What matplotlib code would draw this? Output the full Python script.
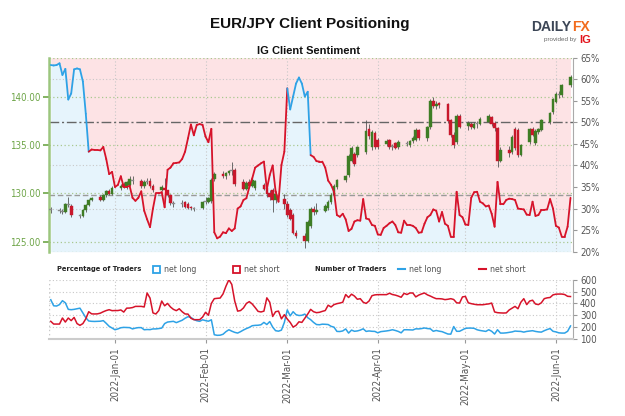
import matplotlib
matplotlib.use("Agg")
import matplotlib.pyplot as plt
import matplotlib.dates as mdates
import pandas as pd
from matplotlib import font_manager
from matplotlib.collections import LineCollection
from matplotlib.patches import Rectangle
from matplotlib.lines import Line2D

# IG client sentiment, one value per calendar day starting 2021-12-10
net_long_pct = [
    63.3, 63.2, 63.3, 63.7, 61.0, 62.4, 55.3, 56.7, 62.3, 62.5,
    62.3, 59.5, 52.0, 43.2, 43.7, 43.6, 43.6, 43.5, 44.3, 41.5,
    38.0, 38.5, 35.0, 35.5, 37.5, 35.0, 35.0, 35.3, 32.5, 31.8,
    32.5, 34.0, 29.5, 27.5, 25.7, 30.0, 33.5, 33.5, 33.8, 30.3,
    39.0, 39.5, 40.5, 40.6, 40.7, 41.5, 43.2, 46.3, 49.5, 47.0,
    49.4, 49.6, 49.4, 46.7, 45.4, 48.5, 24.5, 23.1, 23.5, 24.5,
    24.3, 25.4, 24.8, 25.4, 30.0, 30.5, 32.0, 32.4, 35.0, 37.0,
    39.5, 40.0, 40.5, 40.9, 34.5, 37.8, 40.0, 34.0, 31.6, 40.1,
    43.2, 57.9, 53.0, 56.0, 59.0, 60.4, 59.0, 56.0, 57.1, 42.4,
    42.0, 41.0, 40.9, 40.9, 39.5, 36.5, 35.5, 33.9, 28.5, 28.1,
    28.8, 27.5, 24.8, 25.3, 27.0, 27.3, 27.2, 32.2, 27.7, 27.5,
    26.2, 26.0, 24.0, 23.9, 25.5, 26.0, 26.6, 27.0, 26.2, 24.5,
    24.4, 27.2, 26.2, 26.2, 26.0, 25.5, 24.4, 24.5, 26.5, 28.0,
    28.5, 29.8, 29.5, 27.0, 29.2, 26.5, 26.0, 23.5, 23.5, 33.9,
    28.5, 28.0, 26.3, 26.2, 32.5, 33.8, 33.9, 31.6, 31.2, 30.5,
    30.7, 28.8, 25.8, 36.2, 31.0, 31.0, 32.0, 32.3, 32.2, 32.0,
    30.0, 29.9, 29.8, 28.6, 28.5, 31.6, 28.3, 28.5, 29.7, 29.7,
    29.8, 32.2, 30.0, 26.0, 25.6, 23.5, 23.5, 25.8, 32.5,
]
long_traders = [
    431, 380, 378, 390, 423, 405, 350, 347, 350, 355,
    360, 320, 280, 252, 249, 248, 249, 250, 255, 232,
    207, 193, 178, 185, 195, 198, 197, 196, 185, 192,
    196, 196, 178, 180, 179, 185, 185, 188, 192, 230,
    243, 246, 249, 238, 248, 258, 275, 288, 282, 265,
    254, 249, 262, 255, 250, 262, 136, 131, 132, 140,
    162, 178, 166, 156, 150, 162, 176, 188, 198, 212,
    215, 216, 220, 240, 222, 247, 200, 170, 166, 175,
    240, 345, 295, 330, 305, 298, 300, 310, 280, 263,
    240, 222, 220, 225, 224, 222, 207, 200, 164, 163,
    168, 185, 150, 175, 165, 168, 175, 186, 164, 168,
    165, 164, 152, 162, 165, 168, 172, 178, 172, 164,
    152, 178, 178, 177, 176, 186, 185, 188, 193, 188,
    186, 165, 172, 166, 162, 152, 142, 141, 205, 165,
    165, 178, 190, 192, 192, 190, 178, 172, 168, 164,
    178, 165, 142, 178, 150, 150, 152, 156, 160, 167,
    165, 164, 158, 164, 167, 170, 164, 160, 158, 170,
    180, 188, 165, 160, 152, 150, 150, 165, 210,
]
short_traders = [
    249, 226, 226, 226, 277, 243, 277, 255, 282, 230,
    215, 230, 270, 330, 312, 311, 312, 318, 330, 340,
    347, 339, 340, 340, 345, 327, 360, 361, 365, 375,
    375, 375, 370, 488, 445, 320, 311, 340, 420, 380,
    400, 370, 350, 339, 355, 330, 311, 310, 275, 263,
    263, 263, 285, 325, 300, 400, 440, 443, 445, 480,
    545, 600, 560, 420, 335, 340, 362, 400, 415, 395,
    365, 333, 328, 335, 447, 410, 290, 330, 335, 270,
    305, 268, 240, 200, 215, 245, 240, 275, 310, 350,
    330, 322, 325, 333, 340, 385, 370, 390, 398, 403,
    410, 475, 450, 478, 462, 435, 440, 410, 400, 420,
    465, 472, 474, 474, 474, 474, 486, 475, 470, 462,
    452, 485, 475, 488, 488, 455, 470, 480, 488, 472,
    462, 450, 440, 440, 438, 432, 435, 440, 433, 405,
    403, 455, 459, 405, 398, 393, 389, 389, 389, 393,
    396, 403, 328, 322, 320, 319, 320, 345, 360, 375,
    355, 410, 440, 390, 420, 427, 395, 390, 405, 440,
    447, 450, 472, 478, 479, 479, 475, 460, 458,
]

# EUR/JPY daily candles, business days 2021-12-10 .. 2022-06-06 (one row per month)
opens = [
    128.3, 128.3, 128.2, 128.1, 128.9, 128.7, 127.8, 127.7, 128.3, 128.8, 129.3, 129.6, 129.3, 129.8, 130.2, 129.9,
    130.6, 131.0, 130.7, 130.9, 131.4, 131.3, 130.8, 131.2, 131.3, 130.8, 130.3, 130.6, 130.3, 129.8, 129.0, 128.9, 129.1, 128.9, 128.6, 128.4, 128.5,
    129.1, 129.1, 129.2, 131.5, 132.0, 131.8, 132.1, 132.3, 132.4, 131.2, 130.5, 131.2, 130.8, 130.6, 130.9, 130.6, 130.0, 130.4, 129.3, 129.4,
    128.9, 128.3, 127.8, 125.9, 125.6, 125.1, 126.6, 128.4, 128.1, 128.2, 128.5, 129.1, 129.8, 130.7, 131.4, 131.9, 133.4, 134.1, 134.0, 134.3, 136.7, 134.8, 136.2,
    135.5, 135.1, 135.5, 134.8, 135.2, 134.8, 135.1, 135.0, 135.4, 135.5, 136.6, 135.7, 136.9, 139.6, 139.0, 139.3, 139.2, 137.6, 136.0, 135.3, 138.0,
    137.0, 137.2, 136.8, 137.2, 137.2, 137.4, 137.9, 137.3, 136.8, 133.4, 134.5, 134.3, 136.7, 136.6, 134.0, 135.3, 136.7, 135.2, 136.3, 136.6, 137.4, 138.4,
    139.5, 140.3, 140.2, 141.2,
]
highs = [
    128.6, 128.5, 128.4, 129.0, 129.6, 128.9, 127.9, 128.4, 128.9, 129.4, 129.6, 129.8, 129.9, 130.3, 130.5, 130.8,
    131.0, 131.2, 131.3, 131.8, 131.8, 131.5, 131.4, 131.6, 131.6, 131.0, 130.9, 131.6, 130.4, 129.9, 129.2, 129.3, 129.2, 129.1, 128.7, 128.6, 129.2,
    129.6, 129.6, 131.6, 132.2, 132.3, 132.2, 132.4, 133.2, 132.6, 131.5, 131.3, 131.5, 131.6, 131.4, 131.1, 130.8, 130.4, 130.6, 130.2, 129.9,
    129.2, 128.5, 128.0, 126.2, 125.9, 127.2, 128.6, 128.7, 129.0, 128.9, 129.3, 130.0, 131.0, 131.5, 131.9, 134.1, 134.9, 134.3, 134.9, 137.6, 137.2, 136.6, 136.5,
    135.7, 135.6, 135.6, 135.1, 135.3, 135.5, 135.4, 135.5, 135.9, 136.8, 136.7, 137.0, 139.8, 140.0, 139.6, 139.5, 139.3, 137.7, 136.3, 138.2, 138.2,
    137.5, 137.4, 137.4, 137.5, 137.9, 138.2, 138.0, 137.5, 136.9, 134.8, 134.9, 136.0, 136.9, 136.8, 135.1, 136.8, 136.9, 136.7, 136.8, 137.7, 138.4, 139.9,
    140.5, 140.6, 141.3, 142.2,
]
lows = [
    128.0, 128.0, 127.9, 128.0, 128.6, 127.6, 127.5, 127.6, 128.1, 128.7, 129.2, 129.2, 129.2, 129.6, 129.8, 129.8,
    130.4, 130.6, 130.5, 130.8, 131.0, 130.6, 130.6, 131.0, 130.6, 130.1, 130.2, 129.9, 129.6, 128.8, 128.6, 128.6, 128.5, 128.4, 128.3, 128.2, 128.4,
    128.9, 129.0, 129.0, 131.3, 131.6, 131.5, 131.9, 131.9, 130.8, 130.3, 130.4, 130.6, 130.7, 130.4, 130.3, 129.6, 129.3, 128.1, 129.0, 128.4,
    127.6, 127.2, 125.8, 125.4, 124.4, 125.0, 126.4, 127.8, 127.9, 128.1, 128.3, 128.9, 129.6, 130.5, 131.2, 131.7, 133.2, 132.8, 133.8, 134.1, 135.6, 134.5, 134.6,
    134.6, 134.9, 134.6, 134.5, 134.6, 134.6, 134.9, 134.8, 135.2, 135.4, 135.5, 135.4, 136.7, 138.8, 138.7, 138.8, 137.3, 135.8, 134.7, 135.1, 136.8,
    136.6, 136.7, 136.7, 136.8, 137.1, 137.3, 137.0, 136.5, 132.7, 133.2, 133.8, 134.1, 134.5, 133.8, 133.9, 135.1, 135.9, 135.0, 136.1, 136.4, 137.2, 138.2,
    139.3, 139.9, 140.0, 141.0,
]
closes = [
    128.35, 128.2, 128.1, 128.9, 128.8, 127.8, 127.7, 128.3, 128.8, 129.3, 129.5, 129.3, 129.8, 130.2, 129.9, 130.6,
    130.8, 130.7, 131.2, 131.5, 131.3, 130.8, 131.2, 131.3, 130.8, 130.3, 130.7, 130.4, 129.8, 129.0, 128.9, 129.0, 128.6, 128.5, 128.45, 128.5, 129.1,
    129.2, 129.5, 131.4, 132.0, 131.8, 132.1, 132.3, 132.4, 131.0, 130.5, 131.1, 130.8, 131.4, 131.3, 130.5, 129.9, 129.6, 129.3, 129.9, 128.9,
    127.8, 127.4, 125.9, 125.6, 125.1, 127.0, 128.4, 128.1, 128.3, 128.7, 129.1, 129.8, 130.8, 131.4, 131.8, 133.9, 134.7, 133.0, 134.8, 136.4, 135.9, 136.3, 134.8,
    134.8, 135.4, 134.8, 134.9, 134.7, 135.3, 135.2, 135.4, 135.7, 136.6, 135.7, 136.9, 139.6, 139.0, 139.2, 139.1, 137.5, 136.0, 135.0, 138.0, 136.9,
    137.3, 136.9, 137.2, 137.3, 137.7, 138.0, 137.2, 136.8, 133.3, 134.5, 134.2, 135.8, 134.7, 134.0, 135.0, 136.7, 136.0, 136.5, 136.7, 137.6, 138.3, 139.8,
    140.3, 140.2, 141.2, 142.0,
]

price_ticks = [125, 130, 135, 140]
pct_ticks = [20, 25, 30, 35, 40, 45, 50, 55, 60, 65]
count_ticks = [100, 200, 300, 400, 500, 600]
month_starts = ["2022-01-01", "2022-02-01", "2022-03-01", "2022-04-01", "2022-05-01", "2022-06-01"]
current_pct = 33.2

BLUE = "#2ea2e6"
RED = "#d6132a"
FILL_BLUE = "#e6f4fc"
FILL_PINK = "#fde3e5"
CANDLE_UP = "#3e7d25"
CANDLE_DN = "#c8172b"
CANDLE_FLAT = "#8a8a8a"
GREEN_AXIS = "#6ea548"
GRID_GREEN = "#a9c88f"
GRID_GRAY = "#c8c8c8"
TXT_GRAY = "#555555"

# narrow font for the small labels if a condensed face is around
fonts = font_manager.fontManager.ttflist
names = {f.name for f in fonts}
SANS = "Liberation Sans" if "Liberation Sans" in names else "DejaVu Sans"
if "Liberation Sans Narrow" in names:
    SMALL = dict(family="Liberation Sans Narrow")
elif any(f.name == "DejaVu Sans" and "condensed" in str(f.stretch) for f in fonts):
    SMALL = dict(family="DejaVu Sans", stretch="condensed")
else:
    SMALL = dict(family="Roboto" if "Roboto" in names else "DejaVu Sans")

sent_dates = pd.date_range("2021-12-10", periods=len(net_long_pct), freq="D")
count_dates = pd.date_range("2021-12-10", periods=len(long_traders), freq="D")
candle_dates = pd.bdate_range("2021-12-10", "2022-06-06")
n = min(len(candle_dates), len(opens), len(highs), len(lows), len(closes))

W, H = 625, 416
def box(x0, y0, x1, y1):
    return [x0 / W, 1 - y1 / H, (x1 - x0) / W, (y1 - y0) / H]

def small(lab, size):
    lab.set_family(SMALL["family"])
    if "stretch" in SMALL:
        lab.set_stretch(SMALL["stretch"])
    lab.set_fontsize(size)

fig = plt.figure(figsize=(6.25, 4.16), dpi=100)
fig.patch.set_facecolor("white")

x0 = mdates.date2num(pd.Timestamp("2022-01-01"))
xlim = (x0 - 22.6, x0 + 156.85)
months = mdates.date2num(pd.to_datetime(month_starts))

# --- main panel: sentiment fill (bottom layer, percent scale)
ax = fig.add_axes(box(49, 57.7, 573, 251.7))
axp = ax.twinx()   # price candles
axl = ax.twinx()   # sentiment line on top

sx = mdates.date2num(sent_dates)
ax.fill_between(sx, net_long_pct, 20, color=FILL_BLUE, lw=0, zorder=0)
ax.fill_between(sx, net_long_pct, 65, color=FILL_PINK, lw=0, zorder=0)
for v in [30, 40, 60]:
    ax.axhline(v, color=GRID_GRAY, lw=0.8, ls=(0, (1, 2)), zorder=1)
for v in [20, 65]:
    ax.axhline(v, color=GRID_GREEN, lw=0.9, ls=(0, (1, 2)), zorder=1)
for m in months:
    ax.axvline(m, color=GRID_GRAY, lw=0.8, ls=(0, (1, 2)), zorder=1)
ax.axhline(50, color="#666666", lw=1.0, ls=(0, (7, 2, 1.5, 2)), zorder=2)
ax.axhline(current_pct, color="#9a9a9a", lw=1.0, ls=(0, (4, 2)), zorder=2)
ax.set_xlim(*xlim)
ax.set_ylim(20, 65)
ax.set_yticks(pct_ticks)
ax.set_yticklabels([f"{v}%" for v in pct_ticks])
ax.set_xticks([])
for s in ["left", "top", "bottom"]:
    ax.spines[s].set_visible(False)
ax.spines["right"].set_color("#aaaaaa")

# --- price candles
axp.set_ylim(123.97, 144.03)
for v in price_ticks:
    axp.axhline(v, color=GRID_GREEN, lw=0.9, ls=(0, (1, 2)), zorder=1)
cx = mdates.date2num(candle_dates[:n])
for i in range(n):
    o, h, l, c = opens[i], highs[i], lows[i], closes[i]
    if abs(c - o) < 0.12:
        col = CANDLE_FLAT
    elif c > o:
        col = CANDLE_UP
    else:
        col = CANDLE_DN
    axp.vlines(cx[i], l, h, color="#555555", lw=0.6, zorder=3)
    axp.bar(cx[i], max(abs(c - o), 0.08), bottom=min(o, c), width=0.9,
            color=col, edgecolor=col, lw=0.3, zorder=4)
axp.set_yticks(price_ticks)
axp.set_yticklabels([f"{v:.2f}" for v in price_ticks])
axp.yaxis.tick_left()
axp.tick_params(axis="y", colors=GREEN_AXIS, labelcolor=GREEN_AXIS, length=4, width=1.2, pad=2)
for lab in axp.get_yticklabels():
    small(lab, 7)
for s in ["right", "top", "bottom"]:
    axp.spines[s].set_visible(False)
axp.spines["left"].set_color("#9cc67e")
axp.spines["left"].set_linewidth(1.8)
axp.set_xlim(*xlim)

# --- sentiment line, blue while most clients are long
axl.set_ylim(20, 65)
axl.set_yticks([])
for s in axl.spines.values():
    s.set_visible(False)
segs = [[(sx[i], net_long_pct[i]), (sx[i + 1], net_long_pct[i + 1])] for i in range(len(sx) - 1)]
seg_cols = [BLUE if net_long_pct[i] >= 50 else RED for i in range(len(sx) - 1)]
axl.add_collection(LineCollection(segs, colors=seg_cols, linewidths=1.3, capstyle="round", joinstyle="round"))
axl.set_xlim(*xlim)

# twinx moved the percent ticks to the left, put them back
ax.yaxis.tick_right()
ax.tick_params(axis="y", right=True, left=False, labelright=True, labelleft=False,
               colors="#999999", labelcolor=TXT_GRAY, length=3, width=0.8, pad=2)
for lab in ax.get_yticklabels():
    small(lab, 7)

# --- bottom panel: number of traders
axb = fig.add_axes(box(49, 279.7, 573, 339))
bx = mdates.date2num(count_dates)
for v in count_ticks[1:]:
    axb.axhline(v, color=GRID_GRAY, lw=0.8, ls=(0, (1, 2)), zorder=0)
for m in months:
    axb.axvline(m, color=GRID_GRAY, lw=0.8, ls=(0, (1, 2)), zorder=0)
axb.axvline(xlim[0], color=GRID_GRAY, lw=1.0, ls=(0, (1, 2)), zorder=0)
axb.plot(bx, long_traders, color=BLUE, lw=1.1, zorder=3)
axb.plot(bx, short_traders, color=RED, lw=1.1, zorder=3)
axb.set_xlim(*xlim)
axb.set_ylim(100, 600)
axb.set_yticks(count_ticks)
axb.yaxis.tick_right()
axb.set_xticks(months)
axb.set_xticklabels([pd.Timestamp(m).strftime("%Y-%b-%d") for m in month_starts], rotation=90)
axb.tick_params(axis="y", colors="#999999", labelcolor=TXT_GRAY, length=3, width=0.8, pad=2)
axb.tick_params(axis="x", colors="#999999", labelcolor=TXT_GRAY, length=3, width=0.8, pad=3)
for lab in axb.get_yticklabels() + axb.get_xticklabels():
    small(lab, 7)
axb.spines["left"].set_visible(False)
axb.spines["top"].set_visible(False)
axb.spines["right"].set_color("#aaaaaa")
axb.spines["bottom"].set_color("#cccccc")
axb.spines["bottom"].set_linewidth(1.5)

# --- legend row
ly = 1 - 269 / H
def leg_text(x, s, bold=False):
    t = fig.text(x / W, ly, s, va="center", color="#222222" if bold else TXT_GRAY,
                 fontweight="bold" if bold else "normal")
    small(t, 5.4 if bold else 6.3)

leg_text(57, "Percentage of Traders", bold=True)
fig.add_artist(Rectangle((153 / W, ly - 3.5 / H), 7 / W, 7 / H, transform=fig.transFigure,
                         facecolor="white", edgecolor=BLUE, lw=1.3))
leg_text(164, "net long")
fig.add_artist(Rectangle((233 / W, ly - 3.5 / H), 7 / W, 7 / H, transform=fig.transFigure,
                         facecolor="white", edgecolor=RED, lw=1.3))
leg_text(244, "net short")
leg_text(315, "Number of Traders", bold=True)
fig.add_artist(Line2D([398 / W, 405 / W], [ly, ly], transform=fig.transFigure, color=BLUE, lw=1.5))
leg_text(409, "net long")
fig.add_artist(Line2D([479 / W, 486 / W], [ly, ly], transform=fig.transFigure, color=RED, lw=1.5))
leg_text(490, "net short")

# --- titles and logo
fig.text(310 / W, 1 - 24 / H, "EUR/JPY Client Positioning", fontsize=11, fontweight="bold",
         family=SANS, ha="center", va="center", color="#111111")
fig.text(309 / W, 1 - 51 / H, "IG Client Sentiment", fontsize=8, fontweight="bold",
         family=SANS, ha="center", va="center", color="#111111")
fig.text(531 / W, 1 - 27 / H, "DAILY", fontsize=10, fontweight="bold", family=SANS,
         ha="left", va="center", color="#3c4656")
fig.text(572 / W, 1 - 27 / H, "FX", fontsize=10, fontweight="bold", family=SANS,
         ha="left", va="center", color="#f26b1d")
fig.text(576 / W, 1 - 40 / H, "provided by", fontsize=4.5, family=SANS,
         ha="right", va="center", color="#666666")
fig.text(579 / W, 1 - 40 / H, "IG", fontsize=8, fontweight="bold", family=SANS,
         ha="left", va="center", color="#e3131b")

fig.savefig("out.png", dpi=100, facecolor="white")
